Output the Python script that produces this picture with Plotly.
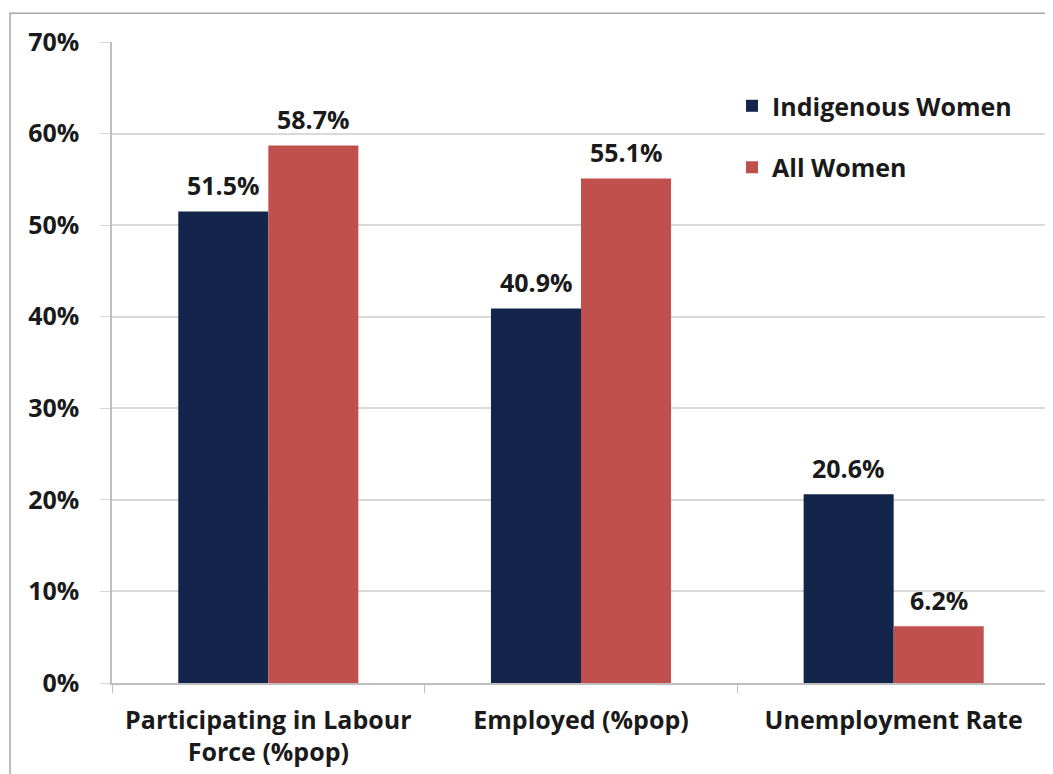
import plotly.graph_objects as go

categories = ["Participating in Labour<br>Force (%pop)", "Employed (%pop)", "Unemployment Rate"]
indigenous = [51.5, 40.9, 20.6]
all_women = [58.7, 55.1, 6.2]
series_names = ["Indigenous Women", "All Women"]
tick_vals = [0, 10, 20, 30, 40, 50, 60, 70]
tick_text = ["0%", "10%", "20%", "30%", "40%", "50%", "60%", "70%"]

FONT = "Open Sans"
FS = 25
navy = "#13254A"
red = "#C0504D"
txt = "#1a1a1a"

fig = go.Figure()
for name, vals, col, grp in [(series_names[0], indigenous, navy, "a"), (series_names[1], all_women, red, "b")]:
    fig.add_trace(go.Bar(
        x=categories, y=vals, name=name, marker=dict(color=col, line=dict(width=0)),
        legendgroup=grp,
    ))

# value labels above bars
annotations = []
for vals, shift in [(indigenous, -45), (all_women, 45)]:
    for c, v in zip(categories, vals):
        annotations.append(dict(x=c, y=v, xref="x", yref="y", text=f"<b>{v:.1f}%</b>",
                                showarrow=False, xshift=shift, yanchor="bottom", yshift=7,
                                font=dict(family=FONT, size=FS, color=txt)))

fig.update_layout(
    width=1045, height=766,
    margin=dict(l=104, r=3, t=34, b=91),
    paper_bgcolor="white", plot_bgcolor="white",
    barmode="group", bargap=0.424, bargroupgap=0,
    font=dict(family=FONT, size=FS, color=txt),
    showlegend=True,
    legend=dict(x=0.661, y=0.936, xanchor="left", yanchor="top",
                font=dict(family=FONT, size=FS, color=txt, weight="bold"),
                tracegroupgap=26, bgcolor="rgba(0,0,0,0)", itemwidth=30),
    annotations=annotations,
    shapes=[dict(type="rect", xref="paper", yref="paper", x0=-0.1087, x1=1.2, y0=-0.3, y1=1.045,
                 line=dict(color="#A6A6A6", width=1.5), layer="below")],
)
fig.update_yaxes(range=[0, 70], tickvals=tick_vals, ticktext=tick_text,
                 showgrid=True, gridcolor="#D9D9D9", gridwidth=1.5,
                 showline=True, linecolor="#BFBFBF", linewidth=1.5,
                 ticks="outside", ticklen=10, tickcolor="#D9D9D9",
                 tickfont=dict(family=FONT, size=FS, weight="bold", color=txt),
                 ticklabelstandoff=16, zeroline=False)
fig.update_xaxes(showline=True, linecolor="#BFBFBF", linewidth=1.5,
                 ticks="outside", tickson="boundaries", ticklen=8, tickcolor="#BFBFBF",
                 tickfont=dict(family=FONT, size=FS, weight="bold", color=txt),
                 ticklabelstandoff=14)

fig.write_html("out.html")
